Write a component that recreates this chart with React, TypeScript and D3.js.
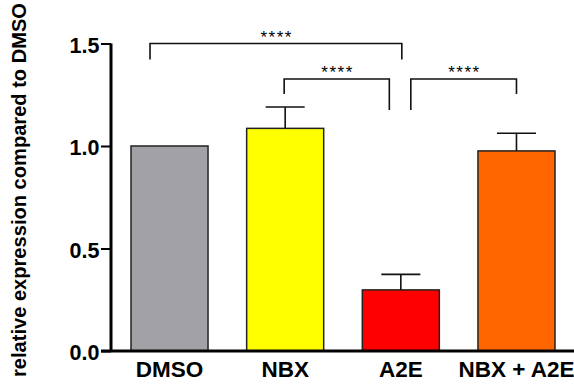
import React, { useEffect, useRef } from 'react';
import * as d3 from 'd3';

// Relative expression bar chart (mean + SEM) with significance brackets.

const W = 574;
const H = 391;
const FONT = '"Liberation Sans", Arial, Helvetica, sans-serif';

const groups = ['DMSO', 'NBX', 'A2E', 'NBX + A2E'];
const means = [1.0, 1.086, 0.298, 0.976];
const errors = [0, 0.104, 0.076, 0.086];
const barColors = ['#a2a1a6', '#ffff00', '#ff0000', '#ff6600'];
const yTicks = [0, 0.5, 1.0, 1.5];

// comparison pairs and their label
const compFrom = ['DMSO', 'NBX', 'A2E'];
const compTo = ['A2E', 'A2E', 'NBX + A2E'];
const compLabel = ['****', '****', '****'];

export default function App() {
  const ref = useRef<SVGSVGElement>(null);

  useEffect(() => {
    const svg = d3.select(ref.current);
    svg.selectAll('*').remove();

    const x = d3
      .scaleBand<string>()
      .domain(groups)
      .range([111, 575])
      .paddingInner(0.334)
      .paddingOuter(0.173);
    const y = d3.scaleLinear().domain([0, 1.5]).range([351, 43.5]);
    const cx = (g: string) => (x(g) ?? 0) + x.bandwidth() / 2;

    // bars
    svg
      .append('g')
      .selectAll('rect')
      .data(groups)
      .enter()
      .append('rect')
      .attr('x', (g) => x(g) ?? 0)
      .attr('y', (_g, i) => y(means[i]))
      .attr('width', x.bandwidth())
      .attr('height', (_g, i) => y(0) - y(means[i]))
      .attr('fill', (_g, i) => barColors[i])
      .attr('stroke', '#222')
      .attr('stroke-width', 1.5);

    // error bars (upper only)
    const eb = svg.append('g').attr('stroke', '#111').attr('stroke-width', 1.6);
    groups.forEach((g, i) => {
      if (!errors[i]) return;
      const top = y(means[i] + errors[i]);
      eb.append('line')
        .attr('x1', cx(g)).attr('x2', cx(g))
        .attr('y1', y(means[i])).attr('y2', top);
      eb.append('line')
        .attr('x1', cx(g) - 19.5).attr('x2', cx(g) + 19.5)
        .attr('y1', top).attr('y2', top);
    });

    // axes
    const yAxis = svg
      .append('g')
      .attr('transform', 'translate(111,0)')
      .call(d3.axisLeft(y).tickValues(yTicks).tickSize(10).tickPadding(2).tickFormat(d3.format('.1f')));
    yAxis.select('.domain').attr('d', `M0,${y(1.5)}V${y(0)}`).attr('stroke', '#000').attr('stroke-width', 3);
    yAxis.selectAll('.tick line').attr('stroke', '#000').attr('stroke-width', 2);
    yAxis
      .selectAll('.tick text')
      .attr('font-family', FONT)
      .attr('font-weight', 'bold')
      .attr('font-size', 21.5)
      .attr('fill', '#000')
      .attr('dy', '0.4em')
      .attr('x', -11.5);

    svg
      .append('line')
      .attr('x1', 101).attr('x2', W)
      .attr('y1', y(0)).attr('y2', y(0))
      .attr('stroke', '#000').attr('stroke-width', 3);

    svg
      .append('g')
      .selectAll('text')
      .data(groups)
      .enter()
      .append('text')
      .attr('x', (g) => cx(g))
      .attr('y', 376.5)
      .attr('text-anchor', 'middle')
      .attr('font-family', FONT)
      .attr('font-weight', 'bold')
      .attr('font-size', 22.5)
      .attr('fill', '#000')
      .text((g) => g);

    // y title
    svg
      .append('text')
      .attr('transform', `translate(25.5,190) rotate(-90)`)
      .attr('text-anchor', 'middle')
      .attr('font-family', FONT)
      .attr('font-weight', 'bold')
      .attr('font-size', 19.5)
      .attr('textLength', 374)
      .attr('lengthAdjust', 'spacingAndGlyphs')
      .attr('fill', '#000')
      .text('relative expression compared to DMSO');

    // significance brackets
    const levels = [1.5, 1.327, 1.327];
    const legs: [number, number][] = [
      [1.422, 1.422],
      [1.254, 1.176],
      [1.176, 1.254],
    ];
    const shifts: [number, number][] = [
      [-19.5, 1],
      [-1, -11.5],
      [10, 0],
    ];
    const br = svg.append('g');
    compFrom.forEach((f, i) => {
      const x1 = cx(f) + shifts[i][0];
      const x2 = cx(compTo[i]) + shifts[i][1];
      const yy = y(levels[i]);
      br.append('path')
        .attr('d', `M${x1},${y(legs[i][0])}V${yy}H${x2}V${y(legs[i][1])}`)
        .attr('fill', 'none')
        .attr('stroke', '#111')
        .attr('stroke-width', 1.6);
      br.append('text')
        .attr('x', (x1 + x2) / 2)
        .attr('y', yy - 0.5)
        .attr('text-anchor', 'middle')
        .attr('font-family', FONT)
        .attr('font-size', 17)
        .attr('textLength', 31)
        .attr('lengthAdjust', 'spacing')
        .attr('fill', '#000')
        .text(compLabel[i]);
    });
  }, []);

  return (
    <svg
      ref={ref}
      width={W}
      height={H}
      style={{ position: 'absolute', left: 0, top: 0, background: '#fff' }}
    />
  );
}
